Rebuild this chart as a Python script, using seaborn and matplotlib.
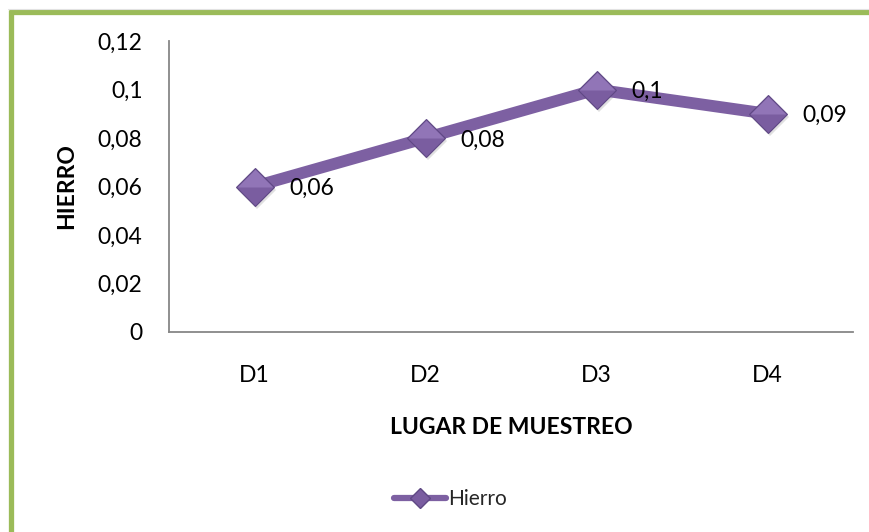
import matplotlib
matplotlib.use("Agg")
import matplotlib.pyplot as plt
from matplotlib.ticker import FuncFormatter, MultipleLocator
from matplotlib.lines import Line2D
from matplotlib.path import Path
import seaborn as sns
import pandas as pd

# Sampling sites and measured iron values
lugares = ["D1", "D2", "D3", "D4"]
hierro = [0.06, 0.08, 0.10, 0.09]

df = pd.DataFrame({"Lugar": lugares, "Hierro": hierro})

sns.set_theme(style="white")
plt.rcParams["font.family"] = ["Lato", "DejaVu Sans"]

PURPLE = "#7D60A2"
MARKER_FACE = "#7A5DA0"
MARKER_TOP = "#9478BA"
MARKER_EDGE = "#5F4884"
GREEN = "#9BBB59"
FS = 16.5

fig = plt.figure(figsize=(8.69, 5.32), dpi=100)
W, H = 869, 532
ax = fig.add_axes([169 / W, (H - 332) / H, (853 - 169) / W, (332 - 41) / H])

# soft drop shadow under the markers
ax.plot(range(len(lugares)), hierro, linestyle="none", marker="D",
        markersize=19, markerfacecolor="#000000", markeredgewidth=0,
        alpha=0.12, zorder=2,
        transform=ax.transData + matplotlib.transforms.ScaledTranslation(
            1.5 / 72, -2.5 / 72, fig.dpi_scale_trans))

sns.lineplot(data=df, x="Lugar", y="Hierro", ax=ax, sort=False,
             color=PURPLE, linewidth=8.5, marker="D", markersize=19,
             markerfacecolor=MARKER_FACE, markeredgecolor=MARKER_EDGE,
             markeredgewidth=0.8, zorder=3, legend=False)

# lighter upper facet of each diamond marker
upper_half = Path([(-1, 0), (0, 1), (1, 0), (-1, 0)],
                  [Path.MOVETO, Path.LINETO, Path.LINETO, Path.CLOSEPOLY])
ax.plot(range(len(lugares)), hierro, linestyle="none", marker=upper_half,
        markersize=25.5, markerfacecolor=MARKER_TOP, markeredgewidth=0,
        zorder=4, alpha=0.9)

ax.set_xlim(-0.5, len(lugares) - 0.5)
ax.set_ylim(0, 0.12)
ax.yaxis.set_major_locator(MultipleLocator(0.02))


def coma(v, _pos=None):
    return f"{round(v, 4):g}".replace(".", ",")


ax.yaxis.set_major_formatter(FuncFormatter(coma))

for s in ["top", "right"]:
    ax.spines[s].set_visible(False)
for s in ["left", "bottom"]:
    ax.spines[s].set_color("#878787")
    ax.spines[s].set_linewidth(1.3)

ax.tick_params(axis="y", length=0, pad=19, labelsize=FS, labelcolor="black")
ax.tick_params(axis="x", length=0, pad=24, labelsize=FS, labelcolor="black")

ax.set_xlabel("LUGAR DE MUESTREO", fontsize=FS, fontweight="bold",
              labelpad=22, color="black")
ax.set_ylabel("HIERRO", fontsize=FS, fontweight="bold", labelpad=15,
              color="black")

# value labels next to each point
for i, v in enumerate(hierro):
    ax.annotate(coma(v), xy=(i, v), xytext=(25, -1.5),
                textcoords="offset points", ha="left", va="center",
                fontsize=FS, color="black", zorder=5)

# legend below the plot
handle = Line2D([], [], color=PURPLE, linewidth=4.5, marker="D", markersize=10,
                markerfacecolor=MARKER_FACE, markeredgecolor=MARKER_EDGE)
fig.legend(handles=[handle], labels=["Hierro"], loc="center",
           bbox_to_anchor=(450 / W, 1 - 499 / H), frameon=False,
           fontsize=15, handlelength=2.5, handletextpad=0.1)

# green chart frame
fig.add_artist(Line2D([10.5 / W, 10.5 / W], [0, 1 - 10 / H],
                      transform=fig.transFigure, color=GREEN, linewidth=3.8,
                      solid_capstyle="butt"))
fig.add_artist(Line2D([8.6 / W, 1], [1 - 12 / H, 1 - 12 / H],
                      transform=fig.transFigure, color=GREEN, linewidth=3.8,
                      solid_capstyle="butt"))
fig.add_artist(Line2D([8 / W, 1], [1 - 8.5 / H, 1 - 8.5 / H],
                      transform=fig.transFigure, color="#E2E2E2", linewidth=0.8))

fig.savefig("out.png", dpi=100)
